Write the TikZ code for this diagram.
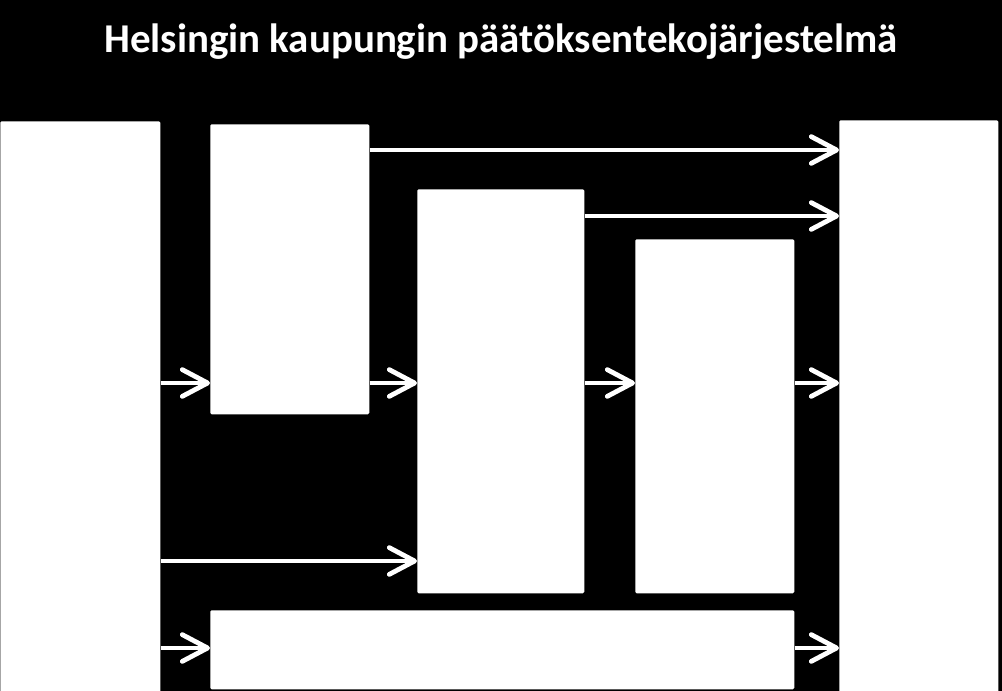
\documentclass[tikz,border=0pt]{standalone}
\usepackage{fontspec}
\setmainfont{Carlito}
\usetikzlibrary{arrows.meta,positioning,calc}
\newdimen\pix
\pix=0.025cm

\begin{document}
\begin{tikzpicture}[x=0.025cm,y=-0.025cm]

  \tikzstyle{every node}=[font=\normalsize]

  \tikzset{box/.style={fill=white, draw=none, rounded corners=1pt,
      inner sep=0pt, anchor=north west}}
  \tikzset{myarrow/.style={white, line width=3.4pt,
      -{Straight Barb[length=18pt,width=19pt,round]}}}

  % Background
  \fill[black] (0,0) rectangle (1002,691);
  \useasboundingbox (0,0) rectangle (1002,691);

  % Title
  \node[white, anchor=base, font=\bfseries\fontsize{29.1}{34}\selectfont] (Title) at (501,52)
    {Helsingin kaupungin päätöksentekojärjestelmä};

  % Boxes
  \node[box, minimum width=160\pix, minimum height=572\pix] (Left box) at (0,121) {};
  \node[box, minimum width=159\pix, minimum height=290\pix] (Box A) at (210,124) {};
  \node[box, minimum width=167\pix, minimum height=404\pix] (Box B) at (417,189) {};
  \node[box, minimum width=159\pix, minimum height=354\pix] (Box C) at (635,239) {};
  \node[box, minimum width=584\pix, minimum height=79\pix] (Box D) at (210,610) {};
  \node[box, minimum width=159\pix, minimum height=573\pix] (Right box) at (839,120) {};

  % Levels of the arrows
  \coordinate (row 1) at (0,150);
  \coordinate (row 2) at (0,216);
  \coordinate (row 3) at (0,383);
  \coordinate (row 4) at (0,561);
  \coordinate (row 5) at (0,648);

  % Arrows to the right box
  \draw[myarrow] (Box A.east |- row 1) -- (Right box.west |- row 1);
  \draw[myarrow] (Box B.east |- row 2) -- (Right box.west |- row 2);
  \draw[myarrow] (Box C.east |- row 3) -- (Right box.west |- row 3);
  \draw[myarrow] (Box D.east |- row 5) -- (Right box.west |- row 5);

  % Middle row
  \draw[myarrow] (Left box.east |- row 3) -- (Box A.west |- row 3);
  \draw[myarrow] (Box A.east |- row 3) -- (Box B.west |- row 3);
  \draw[myarrow] (Box B.east |- row 3) -- (Box C.west |- row 3);

  % From the left box
  \draw[myarrow] (Left box.east |- row 4) -- (Box B.west |- row 4);
  \draw[myarrow] (Left box.east |- row 5) -- (Box D.west |- row 5);

\end{tikzpicture}
\end{document}
